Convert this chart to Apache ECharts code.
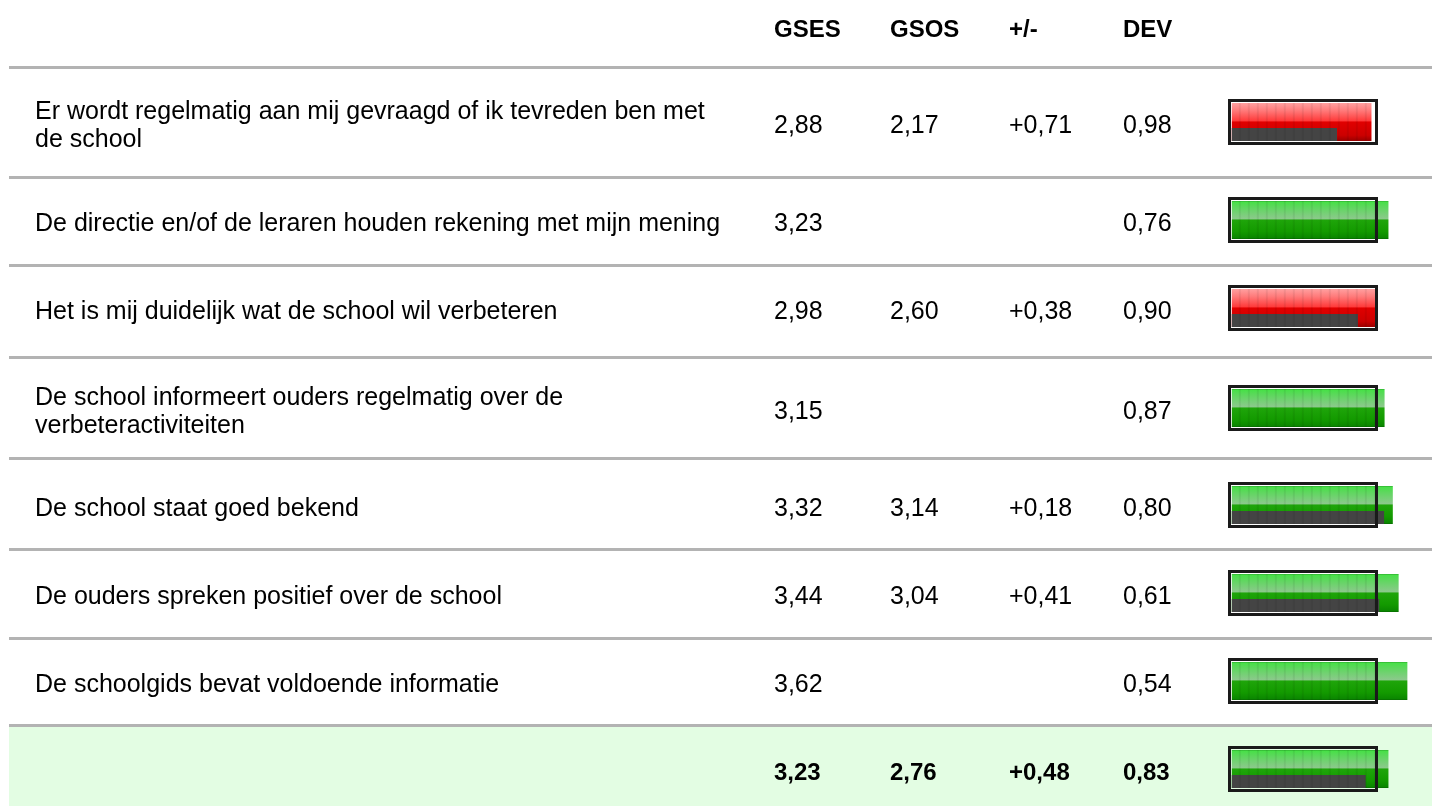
<!DOCTYPE html>
<html>
<head>
<meta charset="utf-8">
<script src="https://cdn.jsdelivr.net/npm/echarts@6/dist/echarts.min.js"></script>
<style>html,body{margin:0;padding:0;background:#fff;}#c{width:1432px;height:806px;}</style>
</head>
<body>
<div id="c"></div>
<script>
// ---- data ----
const headers = ['GSES', 'GSOS', '+/-', 'DEV'];
const questions = [
  'Er wordt regelmatig aan mij gevraagd of ik tevreden ben met\nde school',
  'De directie en/of de leraren houden rekening met mijn mening',
  'Het is mij duidelijk wat de school wil verbeteren',
  'De school informeert ouders regelmatig over de\nverbeteractiviteiten',
  'De school staat goed bekend',
  'De ouders spreken positief over de school',
  'De schoolgids bevat voldoende informatie',
  ''
];
const gses = [2.88, 3.23, 2.98, 3.15, 3.32, 3.44, 3.62, 3.23];
const gsos = [2.17, null, 2.60, null, 3.14, 3.04, null, 2.76];
const diff = [0.71, null, 0.38, null, 0.18, 0.41, null, 0.48];
const dev = [0.98, 0.76, 0.90, 0.87, 0.80, 0.61, 0.54, 0.83];

// ---- layout ----
const FONT = 'Liberation Sans';
const FS = 25, FSB = 24;
const frameTops = [99, 197, 285, 385, 482, 570, 658, 746];
const sepTops = [66, 176, 264, 356, 457, 548, 637, 724];
const colX = [35, 774, 890, 1009, 1123];
const barLeft = 1231.8, unitPx = 48.5, axisMax = 4, frameMax = 3;
const summaryIdx = 7;

function fmt(v, sign) {
  if (v === null || v === undefined) return '';
  return (sign && v >= 0 ? '+' : '') + v.toFixed(2).replace('.', ',');
}

const greenGrad = new echarts.graphic.LinearGradient(0, 0, 0, 1, [
  {offset: 0, color: '#2aa82a'}, {offset: 0.03, color: '#48e048'},
  {offset: 0.15, color: '#5cd85c'}, {offset: 0.47, color: '#8cc98c'},
  {offset: 0.5, color: '#1fa50a'}, {offset: 0.8, color: '#139a00'},
  {offset: 0.96, color: '#0b8800'}, {offset: 1, color: '#066a00'}
]);
const redGrad = new echarts.graphic.LinearGradient(0, 0, 0, 1, [
  {offset: 0, color: '#ffa0a0'}, {offset: 0.2, color: '#ff7a7a'},
  {offset: 0.47, color: '#ff3a3a'}, {offset: 0.5, color: '#e00000'},
  {offset: 0.85, color: '#cc0000'}, {offset: 1, color: '#990000'}
]);

const grids = [], xAxes = [], yAxes = [], series = [];
gses.forEach((g, i) => {
  grids.push({left: barLeft, width: unitPx * axisMax, top: frameTops[i], height: 46});
  xAxes.push({type: 'value', gridIndex: i, min: 0, max: axisMax, show: false});
  yAxes.push({type: 'category', gridIndex: i, data: [''], show: false});
  series.push({
    type: 'custom', xAxisIndex: i, yAxisIndex: i, clip: false, z: 5,
    data: [[g, 0]],
    renderItem: function (params, api) {
      const p0 = api.coord([0, 0]);
      const pG = api.coord([gses[i], 0]);
      const p3 = api.coord([frameMax, 0]);
      const top = p0[1] - 23;
      const ch = [];
      ch.push({type: 'rect', shape: {x: p0[0], y: top + 4, width: pG[0] - p0[0], height: 38},
        style: {fill: gses[i] < 3 ? redGrad : greenGrad}});
      if (gsos[i] !== null) {
        const pS = api.coord([gsos[i], 0]);
        ch.push({type: 'rect', shape: {x: p0[0], y: top + 29, width: pS[0] - p0[0], height: 13},
          style: {fill: '#444444'}});
      }
      const xEnd = Math.min(pG[0], p3[0]) - 2;
      for (let x = p0[0] + 8; x < xEnd; x += 9) {
        ch.push({type: 'line', shape: {x1: x, y1: top + 4, x2: x, y2: top + 42},
          style: {stroke: 'rgba(0,0,0,0.06)', lineWidth: 2}});
      }
      ch.push({type: 'rect', shape: {x: p0[0] - 2.3, y: top + 1.5, width: p3[0] - p0[0] + 1.5, height: 43},
        style: {fill: null, stroke: '#1a1a1a', lineWidth: 3}});
      return {type: 'group', children: ch};
    }
  });
});

const graphics = [];
graphics.push({type: 'rect', z: 0, shape: {x: 9, y: sepTops[summaryIdx] + 3, width: 1432 - 9, height: 806 - sepTops[summaryIdx] - 3},
  style: {fill: '#e3fde3'}});
sepTops.forEach(y => {
  graphics.push({type: 'rect', z: 1, shape: {x: 9, y: y, width: 1432 - 9, height: 3}, style: {fill: '#b3b3b3'}});
});
function txt(s, x, y, bold) {
  return {type: 'text', z: 3, style: {text: s, x: x, y: y, fill: '#000', fontFamily: FONT,
    fontSize: bold ? FSB : FS, fontWeight: bold ? 'bold' : 'normal',
    verticalAlign: 'middle', align: 'left', lineHeight: 28}};
}
headers.forEach((h, k) => graphics.push(txt(h, colX[k + 1], 30, true)));
gses.forEach((g, i) => {
  const cy = frameTops[i] + 27;
  const b = i === summaryIdx;
  graphics.push(txt(questions[i], colX[0], cy, b));
  graphics.push(txt(fmt(g), colX[1], cy, b));
  graphics.push(txt(fmt(gsos[i]), colX[2], cy, b));
  graphics.push(txt(fmt(diff[i], true), colX[3], cy, b));
  graphics.push(txt(fmt(dev[i]), colX[4], cy, b));
});

const chart = echarts.init(document.getElementById('c'), null, {renderer: 'canvas'});
chart.setOption({
  animation: false,
  backgroundColor: '#ffffff',
  grid: grids, xAxis: xAxes, yAxis: yAxes, series: series,
  graphic: {elements: graphics}
});
</script>
</body>
</html>
